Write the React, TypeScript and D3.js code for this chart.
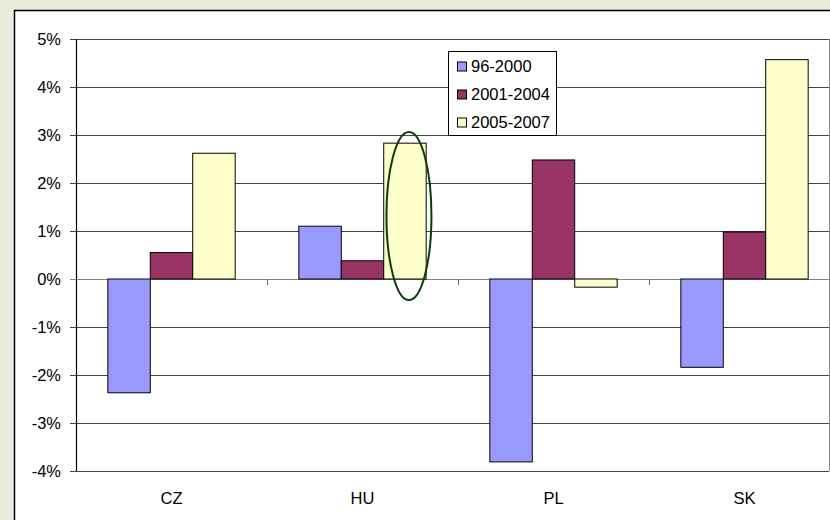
import React from "react";
import * as d3 from "d3";

const categories = ["CZ", "HU", "PL", "SK"];
const seriesNames = ["96-2000", "2001-2004", "2005-2007"];
const s1996 = [-2.37, 1.1, -3.81, -1.84];
const s2001 = [0.55, 0.38, 2.48, 0.98];
const s2005 = [2.62, 2.83, -0.17, 4.57];
const yTicks = [-4, -3, -2, -1, 0, 1, 2, 3, 4, 5];
const colors = ["#9999ff", "#993366", "#ffffcc"];

export default function App() {
  const W = 830, H = 520;
  const left = 76, top = 39, bottom = 471;
  const x = d3.scaleBand<string>().domain(categories).range([left, left + 4 * 191]).paddingInner(0).paddingOuter(0);
  const y = d3.scaleLinear().domain([-4, 5]).range([bottom, top]);
  const series = [s1996, s2001, s2005];
  const inner = d3.scaleBand<number>().domain([0, 1, 2]).range([0, x.bandwidth()]).paddingInner(0).paddingOuter(0.75);
  const font = "'Liberation Sans', Arial, sans-serif";
  const fs = 16.5;
  const gridRight = 829;
  const y0 = y(0);
  const huX = (x("HU") as number) + (inner(2) as number) + inner.bandwidth() / 2;
  return (
    <svg width={W} height={H} style={{ position: "absolute", left: 0, top: 0 }} fontFamily={font}>
      <rect x={0} y={0} width={W} height={H} fill="#eaeadd" />
      <rect x={14.5} y={10.5} width={W} height={H} fill="#ffffff" stroke="#000" strokeWidth={1.5} />
      {yTicks.map((t) => (
        <g key={t}>
          <line x1={70} x2={gridRight} y1={Math.round(y(t)) + 0.5} y2={Math.round(y(t)) + 0.5}
            stroke={t === 0 ? "#808080" : "#444"} strokeWidth={1.2} />
          <text x={61} y={y(t)} dy="0.35em" textAnchor="end" fontSize={fs} fill="#000">{t}%</text>
        </g>
      ))}
      <line x1={gridRight + 0.5} x2={gridRight + 0.5} y1={top} y2={bottom} stroke="#888" strokeWidth={1} />
      {categories.map((c, i) => (
        <g key={c}>
          {series.map((s, k) => {
            const v = s[i];
            const bx = (x(c) as number) + (inner(k) as number);
            return (
              <rect key={k} x={bx} y={Math.min(y(v), y0)} width={inner.bandwidth()}
                height={Math.abs(y(v) - y0)} fill={colors[k]} stroke="#000" strokeWidth={1} />
            );
          })}
          <text x={(x(c) as number) + x.bandwidth() / 2} y={498} dy="0.35em" textAnchor="middle" fontSize={fs} fill="#000">{c}</text>
          {i > 0 && (
            <line x1={Math.round(x(c) as number) + 0.5} x2={Math.round(x(c) as number) + 0.5} y1={y0} y2={y0 + 6} stroke="#666" strokeWidth={1} />
          )}
        </g>
      ))}
      <line x1={left + 0.5} x2={left + 0.5} y1={top} y2={bottom} stroke="#000" strokeWidth={1.2} />
      <ellipse cx={huX + 4} cy={216} rx={22.5} ry={84} fill="none" stroke="#0b3d0b" strokeWidth={2} />
      <g>
        <rect x={448.5} y={51.5} width={108} height={84} fill="#fff" stroke="#000" strokeWidth={1} />
        {seriesNames.map((n, k) => (
          <g key={n}>
            <rect x={457.5} y={62 + k * 28} width={9} height={9} fill={colors[k]} stroke="#000" strokeWidth={1} />
            <text x={471} y={66.5 + k * 28} dy="0.35em" fontSize={fs} fill="#000">{n}</text>
          </g>
        ))}
      </g>
    </svg>
  );
}
